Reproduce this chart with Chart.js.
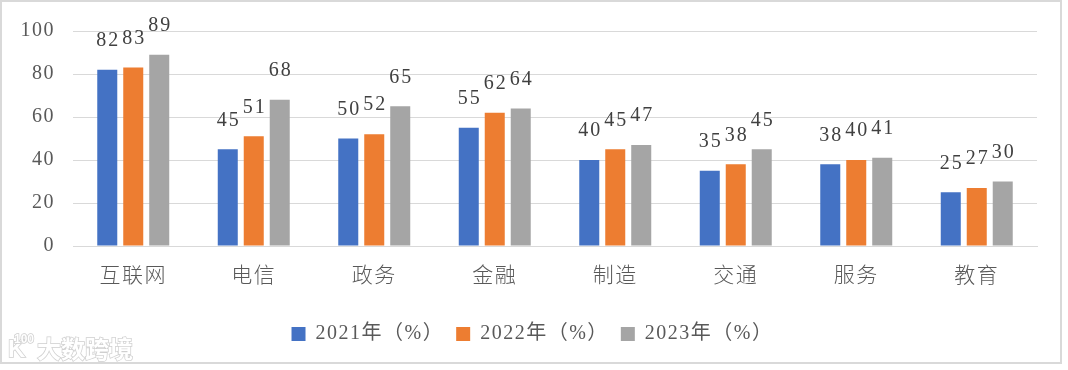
<!DOCTYPE html>
<html>
<head>
<meta charset="utf-8">
<script src="https://cdn.jsdelivr.net/npm/chart.js@4"></script>
<style>
  html, body { margin: 0; padding: 0; background: #fff; }
  #wrap { position: relative; width: 1068px; height: 370px; }
</style>
</head>
<body>
<div id="wrap"><canvas id="myChart"></canvas></div>
<script>
var categories = ['互联网', '电信', '政务', '金融', '制造', '交通', '服务', '教育'];
var seriesNames = ['2021年（%）', '2022年（%）', '2023年（%）'];
var values2021 = [82, 45, 50, 55, 40, 35, 38, 25];
var values2022 = [83, 51, 52, 62, 45, 38, 40, 27];
var values2023 = [89, 68, 65, 64, 47, 45, 41, 30];
var yTicks = [0, 20, 40, 60, 80, 100];

var colors = ['#4472C4', '#ED7D31', '#A5A5A5'];
var serif = '"Liberation Serif", "Noto Sans CJK SC", serif';

// letter spacing like the original office chart
var spacing = {
  id: 'spacing',
  beforeLayout: function (chart) { chart.ctx.letterSpacing = '1.5px'; },
  afterLayout: function (chart) {
    // legend sits a bit right of centre in the original
    chart.legend.left += 14;
    chart.legend.right += 14;
  },
  beforeDraw: function (chart) { chart.ctx.letterSpacing = '1.5px'; }
};

// numbers above bars
var barLabels = {
  id: 'barLabels',
  afterDatasetsDraw: function (chart) {
    var ctx = chart.ctx;
    ctx.save();
    ctx.letterSpacing = '2px';
    ctx.font = '20px ' + serif;
    ctx.fillStyle = '#404040';
    ctx.textAlign = 'center';
    ctx.textBaseline = 'middle';
    chart.data.datasets.forEach(function (ds, i) {
      chart.getDatasetMeta(i).data.forEach(function (bar, j) {
        ctx.fillText(String(ds.data[j]), bar.x + 1, bar.y - 29);
      });
    });
    ctx.restore();
  }
};

// frame and watermark
var frame = {
  id: 'frame',
  afterDraw: function (chart) {
    var ctx = chart.ctx;
    ctx.save();
    ctx.strokeStyle = '#d9d9d9';
    ctx.lineWidth = 2;
    ctx.strokeRect(1, 1, 1060, 362);
    ctx.letterSpacing = '0px';
    ctx.font = 'bold 24px "Noto Sans CJK SC", sans-serif';
    ctx.textBaseline = 'middle';
    ctx.fillStyle = '#ffffff';
    ctx.strokeStyle = '#cfcfcf';
    ctx.lineWidth = 1.5;
    ctx.strokeText('大数跨境', 37, 349);
    ctx.fillText('大数跨境', 37, 349);
    ctx.font = 'bold 24px sans-serif';
    ctx.strokeText('K', 8, 350);
    ctx.fillText('K', 8, 350);
    ctx.font = 'bold 12px sans-serif';
    ctx.strokeText('100', 14, 340);
    ctx.fillText('100', 14, 340);
    ctx.restore();
  }
};

var datasets = [values2021, values2022, values2023].map(function (vals, i) {
  return {
    label: seriesNames[i],
    data: vals,
    backgroundColor: colors[i],
    borderWidth: 0,
    categoryPercentage: 0.647,
    barPercentage: 0.77
  };
});

var ctx = document.getElementById('myChart').getContext('2d');
var myChart = new Chart(ctx, {
  type: 'bar',
  data: { labels: categories, datasets: datasets },
  plugins: [spacing, barLabels, frame],
  options: {
    responsive: true,
    maintainAspectRatio: false,
    animation: false,
    layout: { padding: { top: 31, right: 31, bottom: 16, left: 0 } },
    plugins: {
      tooltip: { enabled: false },
      legend: {
        position: 'bottom',
        labels: {
          boxWidth: 14,
          boxHeight: 14,
          padding: 12,
          color: '#595959',
          font: { family: serif, size: 20 }
        }
      }
    },
    scales: {
      x: {
        grid: { display: false, drawTicks: false },
        border: { color: '#d9d9d9', width: 1 },
        ticks: {
          color: '#595959',
          padding: 15,
          font: { family: '"Noto Sans CJK SC", sans-serif', size: 21, weight: 300 }
        },
        afterFit: function (scale) { scale.height = 66; }
      },
      y: {
        min: 0,
        max: 100,
        border: { display: false },
        grid: { color: '#d9d9d9', lineWidth: 1, drawTicks: false },
        afterBuildTicks: function (scale) {
          scale.ticks = yTicks.map(function (v) { return { value: v }; });
        },
        ticks: {
          color: '#595959',
          padding: 18,
          font: { family: serif, size: 20 }
        },
        afterFit: function (scale) { scale.width = 73; }
      }
    }
  }
});
</script>
</body>
</html>
